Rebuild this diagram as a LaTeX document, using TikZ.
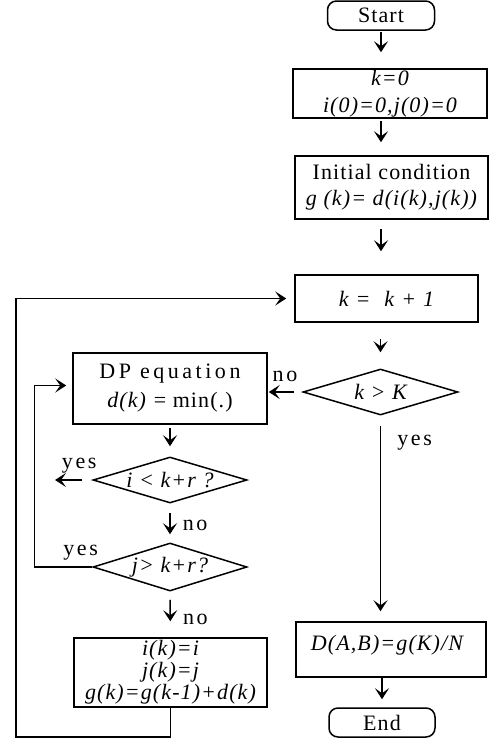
\documentclass[tikz,border=0pt]{standalone}
\usepackage{fontspec}
\setmainfont{Liberation Serif}[LetterSpace=5]
\usetikzlibrary{shapes.geometric,arrows.meta}

\tikzset{
  box/.style={draw, rectangle, inner sep=0pt, align=center},
  term/.style={draw, rectangle, rounded corners=9pt, inner sep=0pt},
  test/.style={draw, diamond, inner sep=0pt, aspect=3.3},
  arr/.style={-{Stealth[length=11pt,width=14pt,inset=5pt]}},
  lbl/.style={inner sep=0pt, font=\fontsize{22}{23}\selectfont\addfontfeatures{LetterSpace=12}}
}

\begin{document}
\begin{tikzpicture}[x=1pt, y=-1pt, line width=1.5pt,
  every node/.style={font=\fontsize{22}{23}\selectfont}]
\useasboundingbox (0,0) rectangle (489,742);

\node[term, minimum width=107pt, minimum height=29pt] (start) at (381,15.5) {Start};
\node[box, minimum width=194pt, minimum height=49pt, font=\fontsize{22}{27}\selectfont\itshape] (init0) at (390,93.5) {k=0\\ i(0)=0,j(0)=0};
\node[box, minimum width=193pt, minimum height=63pt, font=\fontsize{22}{26}\selectfont] (initc) at (391.5,187.5) {Initial condition\\ \itshape g (k)= d(i(k),j(k))};
\node[box, minimum width=183pt, minimum height=47pt, font=\fontsize{22}{23}\selectfont\itshape] (inc) at (386.5,298.5) {k\hspace{7pt}=\hspace{14pt}k\hspace{7pt}+\hspace{7pt}1};
\node[test, minimum width=155pt, minimum height=46pt, font=\fontsize{22}{23}\selectfont\itshape] (testk) at (380.5,392) {k > K};

\node[box, minimum width=194pt, minimum height=71pt, font=\fontsize{22}{29}\selectfont] (dp) at (170,388.5) {\addfontfeatures{LetterSpace=16}DP equation\hspace{10pt}\\ \textit{d(k)} = min(.)\hspace{6pt}};
\node[test, minimum width=154pt, minimum height=46pt, font=\fontsize{22}{23}\selectfont\itshape] (ci) at (170,480) {i < k+r ?};
\node[test, minimum width=154pt, minimum height=48pt, font=\fontsize{22}{23}\selectfont\itshape] (cj) at (170,567) {j> k+r?};
\node[box, minimum width=193pt, minimum height=69pt, font=\fontsize{22}{22}\selectfont\itshape] (upd) at (170.5,672.5) {i(k)=i\\ j(k)=j\\ g(k)=g(k-1)+d(k)};

\node[box, minimum width=190pt, minimum height=55pt, font=\fontsize{22}{23}\selectfont\itshape, text depth=14pt] (dab) at (391,649.5) {D(A,B)=g(K)/N\hspace{8pt}};
\node[term, minimum width=106pt, minimum height=29pt] (endn) at (382,722.5) {End};

\coordinate (yesi) at (55,480);
\coordinate (back) at (16,737);

\draw[arr, shorten <=1pt, shorten >=16pt] (start) -- (start |- init0.north);
\draw[arr, shorten <=2pt, shorten >=13pt] (init0.south -| start) -- (start |- initc.north);
\draw[arr, shorten <=9pt, shorten >=23pt] (initc.south -| start) -- (start |- inc.north);
\draw[arr, shorten <=16pt, shorten >=16pt] (inc.south -| testk) -- (testk.north);
\draw[arr, shorten <=8pt, shorten >=1pt] (testk.west) -- node[lbl, above=10pt] {no} (testk.west -| dp.east);
\draw[arr, shorten <=10pt, shorten >=10pt] (testk.south) -- node[lbl, pos=0.13, right=16pt] {yes} (testk.south |- dab.north);
\draw[arr, shorten <=3pt, shorten >=10pt] (dp.south) -- (ci.north);
\draw[arr, shorten <=10pt] (ci.west) -- node[lbl, above=6pt, pos=0.35] {yes} (yesi);
\draw[arr, shorten <=9pt, shorten >=8pt] (ci.south) -- node[lbl, right=12pt, pos=0.55] {no} (cj.north);
\draw[arr, shorten >=6pt] (cj.west) -- node[lbl, above=6pt, pos=0.2] {yes} ++(-58,0) |- ([yshift=3pt]dp.west);
\draw[arr, shorten <=8pt, shorten >=16pt] (cj.south) -- node[lbl, right=12pt, pos=0.6] {no} (upd.north);
\draw[arr, shorten >=8pt] (upd.south) |- (back) |- (inc.west);
\draw[arr, shorten >=8pt] (dab.south -| endn) -- (endn.north);
\end{tikzpicture}
\end{document}
